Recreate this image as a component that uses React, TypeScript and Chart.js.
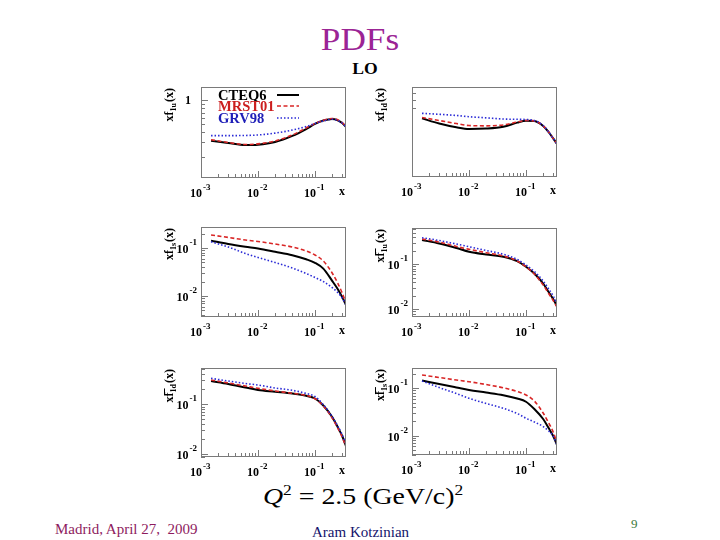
import React, { useEffect, useRef } from "react";
import { Chart, registerables } from "chart.js";

Chart.register(...registerables);

// ---------- data ----------
const X_VALUES = [0.0015, 0.003, 0.006, 0.01, 0.02, 0.04, 0.07, 0.1, 0.14, 0.2, 0.25, 0.3, 0.35];
const X_MIN = 0.001;
const X_MAX = 0.35;
const X_TICK_VALUES = [0.001, 0.01, 0.1];
const X_TICK_EXPONENTS = ["-3", "-2", "-1"];
const SERIES_NAMES = ["CTEQ6", "MRST01", "GRV98"];

const U_CTEQ6 = [0.313, 0.294, 0.278, 0.281, 0.303, 0.36, 0.438, 0.506, 0.557, 0.582, 0.561, 0.52, 0.464];
const U_MRST01 = [0.323, 0.299, 0.282, 0.287, 0.312, 0.37, 0.451, 0.513, 0.561, 0.591, 0.569, 0.527, 0.47];
const U_GRV98 = [0.363, 0.363, 0.365, 0.37, 0.39, 0.426, 0.47, 0.513, 0.55, 0.578, 0.558, 0.52, 0.464];

const D_CTEQ6 = [0.296, 0.255, 0.229, 0.218, 0.221, 0.233, 0.262, 0.277, 0.274, 0.238, 0.2, 0.167, 0.1425];
const D_MRST01 = [0.303, 0.278, 0.255, 0.241, 0.239, 0.245, 0.266, 0.278, 0.275, 0.239, 0.2, 0.167, 0.1425];
const D_GRV98 = [0.341, 0.332, 0.321, 0.31, 0.3, 0.29, 0.288, 0.286, 0.279, 0.241, 0.2, 0.167, 0.1425];

const S_CTEQ6 = [0.142, 0.121, 0.106, 0.0972, 0.0833, 0.0708, 0.0584, 0.0492, 0.0372, 0.0207, 0.014, 0.00955, 0.0065];
const S_MRST01 = [0.187, 0.166, 0.147, 0.137, 0.121, 0.105, 0.0866, 0.0715, 0.0536, 0.0302, 0.0187, 0.01155, 0.00715];
const S_GRV98 = [0.135, 0.105, 0.0768, 0.0634, 0.0499, 0.0383, 0.0294, 0.0243, 0.02, 0.015, 0.0118, 0.0091, 0.0065];

const UBAR_CTEQ6 = [0.347, 0.29, 0.23, 0.19, 0.165, 0.1476, 0.118, 0.0885, 0.0625, 0.0374, 0.0242, 0.0169, 0.0118];
const UBAR_MRST01 = [0.365, 0.313, 0.249, 0.216, 0.181, 0.153, 0.118, 0.0885, 0.0608, 0.0347, 0.0224, 0.0157, 0.01125];
const UBAR_GRV98 = [0.39, 0.338, 0.282, 0.246, 0.203, 0.167, 0.128, 0.0965, 0.069, 0.0426, 0.0283, 0.0198, 0.0131];

const DBAR_CTEQ6 = [0.292, 0.255, 0.217, 0.193, 0.178, 0.164, 0.148, 0.1306, 0.0946, 0.0557, 0.0352, 0.0232, 0.0147];
const DBAR_MRST01 = [0.306, 0.267, 0.232, 0.209, 0.1845, 0.166, 0.15, 0.129, 0.0925, 0.0532, 0.0336, 0.0222, 0.014];
const DBAR_GRV98 = [0.331, 0.292, 0.261, 0.243, 0.212, 0.1905, 0.1645, 0.143, 0.0982, 0.057, 0.0368, 0.0249, 0.0161];

const SBAR_CTEQ6 = [0.146, 0.123, 0.104, 0.092, 0.0815, 0.0714, 0.0609, 0.0521, 0.0366, 0.0225, 0.0145, 0.00985, 0.00637];
const SBAR_MRST01 = [0.191, 0.169, 0.1496, 0.1377, 0.1202, 0.1025, 0.0856, 0.0722, 0.054, 0.0301, 0.0185, 0.012, 0.007];
const SBAR_GRV98 = [0.1426, 0.104, 0.0777, 0.0615, 0.0478, 0.0379, 0.0294, 0.0233, 0.0195, 0.0156, 0.01256, 0.00985, 0.00637];

// ---------- layout / style ----------
const SERIF = "'Liberation Serif', 'Times New Roman', serif";
const LINE_STYLES = [
  { color: "#000000", width: 2, dash: [] as number[] },
  { color: "#d92626", width: 1.6, dash: [4, 2.5] },
  { color: "#2b2bd6", width: 1.6, dash: [1.5, 2] },
];
const LEGEND_TEXT_COLORS = ["#000000", "#cc1f1f", "#1f1fb8"];

const PAD = { left: 50, right: 15, top: 20, bottom: 25 };

type Panel = {
  frame: [number, number, number, number];
  yMin: number;
  yMax: number;
  series: number[][];
  sub: string;
  bar: boolean;
  legend?: boolean;
  customTicks?: number[];
};

const PANELS: Panel[] = [
  { frame: [201, 87, 145, 91], yMin: 0.1089, yMax: 1.447, series: [U_CTEQ6, U_MRST01, U_GRV98], sub: "1u", bar: false, legend: true },
  { frame: [412, 87, 145, 90], yMin: 0.0558, yMax: 0.721, series: [D_CTEQ6, D_MRST01, D_GRV98], sub: "1d", bar: false, customTicks: [0.4, 0.5, 0.6] },
  { frame: [201, 227, 145, 90], yMin: 0.00365, yMax: 0.274, series: [S_CTEQ6, S_MRST01, S_GRV98], sub: "1s", bar: false },
  { frame: [412, 228, 145, 89], yMin: 0.00674, yMax: 0.641, series: [UBAR_CTEQ6, UBAR_MRST01, UBAR_GRV98], sub: "1u", bar: true },
  { frame: [201, 368, 145, 89], yMin: 0.00883, yMax: 0.532, series: [DBAR_CTEQ6, DBAR_MRST01, DBAR_GRV98], sub: "1d", bar: true },
  { frame: [412, 368, 145, 87], yMin: 0.00392, yMax: 0.268, series: [SBAR_CTEQ6, SBAR_MRST01, SBAR_GRV98], sub: "1s", bar: true },
];

function logTicks(min: number, max: number) {
  const major: number[] = [];
  const minor: number[] = [];
  const d0 = Math.floor(Math.log10(min));
  const d1 = Math.ceil(Math.log10(max));
  for (let d = d0; d <= d1; d++) {
    for (let m = 1; m <= 9; m++) {
      const v = m * Math.pow(10, d);
      if (v >= min * 0.999 && v <= max * 1.001) {
        if (m === 1) major.push(v);
        else minor.push(v);
      }
    }
  }
  return { major, minor };
}

function makePlugin(panel: Panel) {
  return {
    id: "rootFrame",
    afterDraw(chart: any) {
      const { ctx, chartArea: a, scales } = chart;
      const xs = scales.x;
      const ys = scales.y;
      ctx.save();
      // frame
      ctx.strokeStyle = "#7a7a7a";
      ctx.lineWidth = 1;
      ctx.setLineDash([]);
      ctx.strokeRect(a.left + 0.5, a.top + 0.5, a.right - a.left - 1, a.bottom - a.top - 1);

      // x ticks (inward)
      const xt = logTicks(X_MIN, X_MAX);
      ctx.beginPath();
      xt.major.forEach((v) => {
        const p = Math.round(xs.getPixelForValue(v)) + 0.5;
        ctx.moveTo(p, a.bottom);
        ctx.lineTo(p, a.bottom - 7);
      });
      xt.minor.forEach((v) => {
        const p = Math.round(xs.getPixelForValue(v)) + 0.5;
        ctx.moveTo(p, a.bottom);
        ctx.lineTo(p, a.bottom - 4);
      });
      // y ticks
      let yMajor: number[] = [];
      let yMinor: number[] = [];
      if (panel.customTicks) {
        yMinor = panel.customTicks;
      } else {
        const yt = logTicks(panel.yMin, panel.yMax);
        yMajor = yt.major;
        yMinor = yt.minor;
      }
      yMajor.forEach((v) => {
        const p = Math.round(ys.getPixelForValue(v)) + 0.5;
        ctx.moveTo(a.left, p);
        ctx.lineTo(a.left + 7, p);
      });
      yMinor.forEach((v) => {
        const p = Math.round(ys.getPixelForValue(v)) + 0.5;
        ctx.moveTo(a.left, p);
        ctx.lineTo(a.left + 4, p);
      });
      ctx.stroke();

      ctx.fillStyle = "#000";
      const baseFont = `bold 12px ${SERIF}`;
      const expFont = `bold 9px ${SERIF}`;
      // x labels
      X_TICK_VALUES.forEach((v, i) => {
        const p = xs.getPixelForValue(v);
        ctx.font = baseFont;
        ctx.textAlign = "right";
        ctx.textBaseline = "alphabetic";
        ctx.fillText("10", p + 1, a.bottom + 19);
        ctx.font = expFont;
        ctx.textAlign = "left";
        ctx.fillText(X_TICK_EXPONENTS[i], p + 2, a.bottom + 12);
      });
      // x title
      ctx.font = `bold 12px ${SERIF}`;
      ctx.textAlign = "right";
      ctx.fillText("x", a.right - 1, a.bottom + 17);

      // y labels
      yMajor.forEach((v) => {
        const p = ys.getPixelForValue(v);
        const d = Math.round(Math.log10(v));
        if (d === 0) {
          ctx.font = baseFont;
          ctx.textAlign = "right";
          ctx.fillText("1", a.left - 10, p + 4);
        } else {
          const e = String(d);
          ctx.font = expFont;
          const ew = ctx.measureText(e).width;
          ctx.textAlign = "left";
          ctx.fillText(e, a.left - 4 - ew, p - 3);
          ctx.font = baseFont;
          ctx.textAlign = "right";
          ctx.fillText("10", a.left - 5 - ew, p + 5);
        }
      });

      // y title (rotated)
      ctx.save();
      ctx.translate(a.left - 28, a.top + 1);
      ctx.rotate(-Math.PI / 2);
      ctx.textAlign = "left";
      ctx.font = `bold 12px ${SERIF}`;
      const w1 = ctx.measureText("xf").width;
      const w3 = ctx.measureText("(x)").width;
      ctx.font = `bold 8px ${SERIF}`;
      const w2 = ctx.measureText(panel.sub).width;
      const x0 = -(w1 + w2 + w3 + 1);
      ctx.font = `bold 12px ${SERIF}`;
      ctx.fillText("xf", x0, 0);
      ctx.font = `bold 8px ${SERIF}`;
      ctx.fillText(panel.sub, x0 + w1, 3);
      if (panel.bar) {
        ctx.fillRect(x0 + w1 - 3, -9, 7, 1);
      }
      ctx.font = `bold 12px ${SERIF}`;
      ctx.fillText("(x)", x0 + w1 + w2 + 1, 0);
      ctx.restore();

      // legend
      if (panel.legend) {
        const rows = [a.top + 13, a.top + 24, a.top + 36];
        SERIES_NAMES.forEach((name, i) => {
          ctx.save();
          ctx.translate(a.left + 17, rows[i]);
          ctx.scale(1.04, 1);
          ctx.font = `bold 14px ${SERIF}`;
          ctx.textAlign = "left";
          ctx.fillStyle = LEGEND_TEXT_COLORS[i];
          ctx.fillText(name, 0, 0);
          ctx.restore();
          const st = LINE_STYLES[i];
          ctx.beginPath();
          ctx.strokeStyle = st.color;
          ctx.lineWidth = st.width;
          ctx.setLineDash(st.dash);
          ctx.moveTo(a.left + 76, rows[i] - 5);
          ctx.lineTo(a.left + 98, rows[i] - 5);
          ctx.stroke();
        });
        ctx.setLineDash([]);
      }
      ctx.restore();
    },
  };
}

function PanelChart({ panel }: { panel: Panel }) {
  const ref = useRef<HTMLCanvasElement | null>(null);
  const [fx, fy, fw, fh] = panel.frame;
  const cw = PAD.left + fw + PAD.right;
  const chh = PAD.top + fh + PAD.bottom;
  useEffect(() => {
    if (!ref.current) return;
    const chart = new Chart(ref.current, {
      type: "line",
      data: {
        datasets: panel.series.map((vals, i) => ({
          label: SERIES_NAMES[i],
          data: X_VALUES.map((x, j) => ({ x, y: vals[j] })),
          borderColor: LINE_STYLES[i].color,
          borderWidth: LINE_STYLES[i].width,
          borderDash: LINE_STYLES[i].dash,
          pointRadius: 0,
          fill: false,
          cubicInterpolationMode: "monotone" as const,
          order: 2 - i,
        })),
      },
      options: {
        responsive: false,
        animation: false,
        events: [],
        layout: { padding: { left: PAD.left, right: PAD.right, top: PAD.top, bottom: PAD.bottom } },
        plugins: {
          legend: { display: false },
          title: { display: false },
          tooltip: { enabled: false },
        },
        scales: {
          x: { type: "logarithmic", min: X_MIN, max: X_MAX, display: false },
          y: { type: "logarithmic", min: panel.yMin, max: panel.yMax, display: false },
        },
      },
      plugins: [makePlugin(panel)],
    } as any);
    return () => chart.destroy();
  }, [panel]);
  return (
    <canvas
      ref={ref}
      width={cw}
      height={chh}
      style={{ position: "absolute", left: fx - PAD.left, top: fy - PAD.top, width: cw, height: chh }}
    />
  );
}

function Txt(props: { left: number; top: number; size: number; color: string; children: any; weight?: string; center?: boolean; sx?: number }) {
  const { left, top, size, color, weight, center, sx } = props;
  return (
    <div
      style={{
        position: "absolute",
        left,
        top,
        fontSize: size,
        lineHeight: 1,
        color,
        fontFamily: SERIF,
        fontWeight: weight || "normal",
        whiteSpace: "nowrap",
        transform: `${center ? "translateX(-50%) " : ""}scaleX(${sx || 1})`,
        transformOrigin: center ? "center" : "left",
      }}
    >
      {props.children}
    </div>
  );
}

export default function App() {
  return (
    <div style={{ position: "absolute", left: 0, top: 0, width: 720, height: 540, background: "#fff", overflow: "hidden" }}>
      <Txt left={360} top={23} size={32} color="#9b2495" center sx={1.1}>PDFs</Txt>
      <Txt left={365} top={61} size={16} color="#000" weight="bold" center sx={1.1}>LO</Txt>
      {PANELS.map((p, i) => (
        <PanelChart key={i} panel={p} />
      ))}
      <div
        style={{
          position: "absolute",
          left: 263,
          top: 483,
          fontFamily: SERIF,
          fontSize: 24,
          lineHeight: 1,
          whiteSpace: "nowrap",
          transform: "scaleX(1.16)",
          transformOrigin: "left",
          color: "#000",
        }}
      >
        <i>Q</i>
        <sup style={{ fontSize: 15, verticalAlign: "9px" }}>2</sup>
        <span>&nbsp;= 2.5 (GeV/c)</span>
        <sup style={{ fontSize: 15, verticalAlign: "9px" }}>2</sup>
      </div>
      <Txt left={55} top={522} size={15} color="#8e1b5e">Madrid, April 27,&nbsp; 2009</Txt>
      <Txt left={312} top={525} size={15} color="#14146b">Aram Kotzinian</Txt>
      <Txt left={631} top={517} size={13} color="#3a7a3a">9</Txt>
    </div>
  );
}
